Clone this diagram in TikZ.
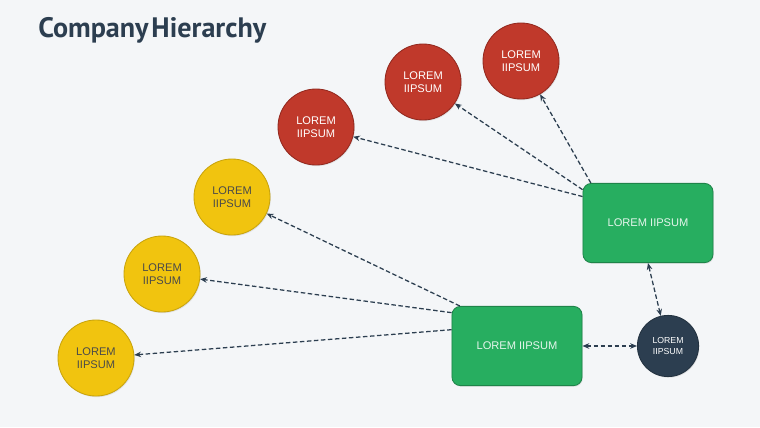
\documentclass[tikz,border=0pt]{standalone}
\usepackage{fontspec}
\setmainfont{Liberation Sans}
\newfontfamily\titlefont[WordSpace=0.4]{PT Sans}
\usetikzlibrary{arrows.meta,shadows}
\definecolor{bgc}     {HTML}{F4F6F8}
\definecolor{ink}     {HTML}{2C3E50}
\definecolor{sun}     {HTML}{F1C40F}
\definecolor{sunrim}  {HTML}{C9A40C}
\definecolor{brick}   {HTML}{C0392B}
\definecolor{brickrim}{HTML}{93291F}
\definecolor{leaf}    {HTML}{27AE60}
\definecolor{leafrim} {HTML}{1E8449}
\definecolor{slate}   {HTML}{2C3E50}
\definecolor{txtgray} {HTML}{4A4A4A}
\tikzset{
  unit/.style    = {circle, minimum size=1.9cm, inner sep=0pt, align=center,
                    font=\fontsize{7.9}{9.6}\selectfont, line width=0.6pt,
                    drop shadow={opacity=0.18, shadow xshift=0.6pt, shadow yshift=-0.8pt}},
  member/.style  = {unit, fill=sun, draw=sunrim, text=txtgray},
  lead/.style    = {unit, fill=brick, draw=brickrim, text=white},
  office/.style  = {rounded corners=6pt, fill=leaf, draw=leafrim, line width=0.6pt,
                    minimum width=3.25cm, minimum height=1.98cm, inner sep=2pt,
                    text=white!88!leaf, font=\fontsize{7.9}{9.6}\selectfont,
                    drop shadow={opacity=0.18, shadow xshift=0.6pt, shadow yshift=-0.8pt}},
  advisor/.style = {unit, minimum size=1.53cm, fill=slate, draw=slate!80!black,
                    text=white, font=\fontsize{6.2}{7.6}\selectfont},
  link/.style    = {-{Stealth[length=1.7mm, width=1.4mm]}, draw=ink, line width=0.9pt,
                    dash pattern=on 3.2pt off 1.8pt},
  twoway/.style  = {link, {Stealth[length=1.7mm, width=1.4mm]}-{Stealth[length=1.7mm, width=1.4mm]}},
  heading/.style = {font=\titlefont\bfseries\fontsize{20}{24}\selectfont, text=ink,
                    inner sep=0pt, anchor=base west},
}

\begin{document}
\begin{tikzpicture}[x=0.025cm, y=-0.025cm]
  \fill[bgc] (0,0) rectangle (760,427);

  % title
  \node[heading] (title) at (38,38) {Company Hierarchy};

  % circles
  \node[member] (member1) at (96,358) {LOREM\\IIPSUM};
  \node[member] (member2) at (162,274) {LOREM\\IIPSUM};
  \node[member] (member3) at (232,197) {LOREM\\IIPSUM};
  \node[lead] (lead1) at (316,127) {LOREM\\IIPSUM};
  \node[lead] (lead2) at (423,82) {LOREM\\IIPSUM};
  \node[lead] (lead3) at (521,61) {LOREM\\IIPSUM};
  \node[advisor] (advisor) at (668,346) {LOREM\\IIPSUM};

  % boxes
  \node[office] (manager) at (517,346) {LOREM IIPSUM};
  \node[office] (director) at (648,223) {LOREM IIPSUM};

  % links
  \draw[link] (manager.166) -- (member1);
  \draw[link] (manager.153) -- (member2);
  \draw[link] (manager.145) -- (member3);
  \draw[link] (director.158) -- (lead1);
  \draw[link] (director.153) -- (lead2);
  \draw[link] (director.145) -- (lead3);
  \draw[twoway] (manager) -- (advisor);
  \draw[twoway] (director.south) -- (advisor);
\end{tikzpicture}
\end{document}
